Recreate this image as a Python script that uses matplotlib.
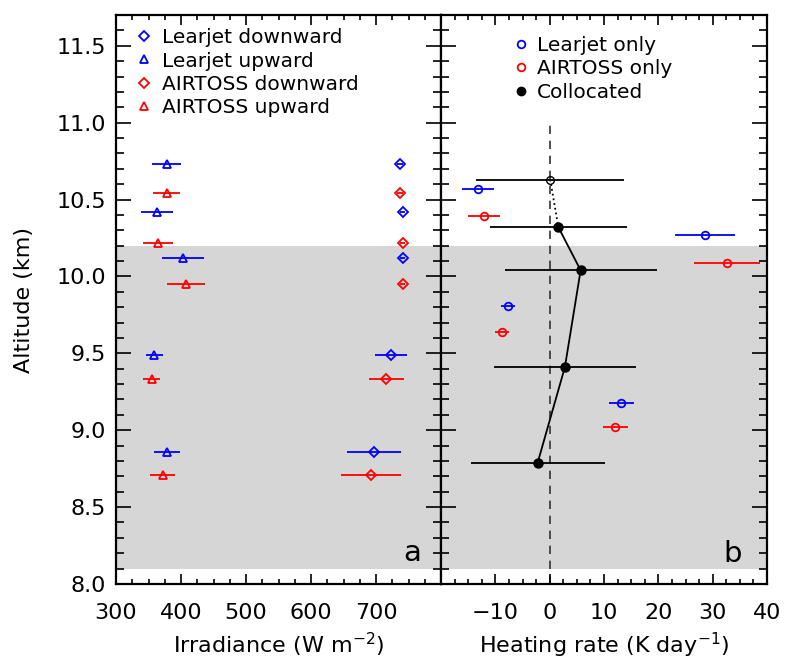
import numpy as np
import matplotlib
matplotlib.use("Agg")
import matplotlib.pyplot as plt
from matplotlib.lines import Line2D

# --- panel a: irradiance profiles ---
lj_alt = [10.73, 10.42, 10.12, 9.49, 8.86]
lj_up = [378, 363, 403, 359, 378]
lj_up_err = [22, 25, 32, 13, 20]
lj_dn = [737, 741, 741, 723, 697]
lj_dn_err = [4, 4, 4, 25, 42]

at_alt = [10.54, 10.22, 9.95, 9.33, 8.71]
at_up = [378, 364, 408, 355, 372]
at_up_err = [21, 23, 29, 13, 19]
at_dn = [737, 741, 741, 716, 692]
at_dn_err = [4, 4, 4, 27, 46]

# --- panel b: heating rates ---
ljo_alt = [10.57, 10.27, 9.81, 9.18]
ljo_hr = [-13.2, 28.6, -7.7, 13.2]
ljo_err = [3.0, 5.6, 1.3, 2.3]
ato_alt = [10.39, 10.09, 9.64, 9.02]
ato_hr = [-12.1, 32.7, -8.8, 12.1]
ato_err = [3.0, 6.1, 1.3, 2.3]
col_alt = [10.63, 10.32, 10.04, 9.41, 8.79]
col_hr = [0.1, 1.6, 5.7, 2.8, -2.2]
col_err = [13.6, 12.6, 14.0, 13.1, 12.3]

cloud_base, cloud_top = 8.1, 10.2

plt.rcParams['font.family'] = ['DejaVu Sans']
BLUE, RED = '#0000ff', '#ff0000'
FS = 16

fig = plt.figure(figsize=(7.85, 6.6), dpi=100)
axa = fig.add_axes([116/785, 1-584/660, 325/785, 569/660])
axb = fig.add_axes([441/785, 1-584/660, 326/785, 569/660])

for ax in (axa, axb):
    ax.axhspan(cloud_base, cloud_top, color='#d6d6d6', lw=0, zorder=0)
    ax.set_ylim(8.0, 11.7)
    ax.set_yticks(np.arange(8.0, 11.51, 0.5))
    ax.set_yticks(np.arange(8.0, 11.7, 0.1), minor=True)
    ax.tick_params(which='both', direction='in', top=True, right=True, width=1.2,
                   labelsize=FS, colors='black')
    ax.tick_params(axis='y', which='major', length=11, pad=7)
    ax.tick_params(axis='y', which='minor', length=5.5)
    ax.tick_params(axis='x', which='major', length=7.5, pad=14)
    ax.tick_params(axis='x', which='minor', length=3.5)
    for s in ax.spines.values():
        s.set_linewidth(1.6)

ekw = dict(ls='none', mew=1.3, mfc='none', ms=5.5, elinewidth=1.3, capsize=0)
dkw = dict(ekw, ms=5)

# panel a
axa.errorbar(lj_dn, lj_alt, xerr=lj_dn_err, marker='D', color=BLUE, **dkw)
axa.errorbar(lj_up, lj_alt, xerr=lj_up_err, marker='^', color=BLUE, **ekw)
axa.errorbar(at_dn, at_alt, xerr=at_dn_err, marker='D', color=RED, **dkw)
axa.errorbar(at_up, at_alt, xerr=at_up_err, marker='^', color=RED, **ekw)
axa.set_xlim(300, 800)
axa.set_xticks(np.arange(300, 801, 100))
axa.set_xticklabels(['300', '400', '500', '600', '700', ''])
axa.set_xticks(np.arange(300, 800, 25), minor=True)
axa.set_xlabel('Irradiance (W m$^{-2}$)', fontsize=FS, labelpad=5)
axa.set_ylabel('Altitude (km)', fontsize=FS, labelpad=16)
axa.text(0.91, 0.055, 'a', transform=axa.transAxes, fontsize=21, ha='center', va='center')

hand_a = [Line2D([], [], ls='none', marker='D', ms=5, mew=1.3, mfc='none', color=BLUE),
          Line2D([], [], ls='none', marker='^', ms=5.5, mew=1.3, mfc='none', color=BLUE),
          Line2D([], [], ls='none', marker='D', ms=5, mew=1.3, mfc='none', color=RED),
          Line2D([], [], ls='none', marker='^', ms=5.5, mew=1.3, mfc='none', color=RED)]
axa.legend(hand_a, ['Learjet downward', 'Learjet upward', 'AIRTOSS downward', 'AIRTOSS upward'],
           loc='upper left', bbox_to_anchor=(0.06, 0.977), frameon=False, fontsize=14.5,
           handlelength=0.8, handletextpad=0.5, labelspacing=0.22, borderpad=0, borderaxespad=0)

# panel b
axb.plot([0, 0], [8.0, 11.0], ls=(0, (5, 4)), color='#333333', lw=1.2, zorder=1)
axb.errorbar(ljo_hr, ljo_alt, xerr=ljo_err, marker='o', color=BLUE, **ekw)
axb.errorbar(ato_hr, ato_alt, xerr=ato_err, marker='o', color=RED, **ekw)
axb.errorbar(col_hr, col_alt, xerr=col_err, ls='none', color='black', elinewidth=1.3, capsize=0)
axb.plot(col_hr[:2], col_alt[:2], ls=':', color='black', lw=1.3)
axb.plot(col_hr[1:], col_alt[1:], ls='-', color='black', lw=1.3)
axb.plot(col_hr[:1], col_alt[:1], 'o', mfc='none', mec='black', ms=5.5, mew=1.0)
axb.plot(col_hr[1:], col_alt[1:], 'o', color='black', ms=6.5)
axb.set_xlim(-20, 40)
axb.set_xticks(np.arange(-20, 41, 10))
axb.set_xticklabels(['', '\u221210', '0', '10', '20', '30', '40'])
axb.set_xticks(np.arange(-20, 40.1, 2.5), minor=True)
axb.set_yticklabels([])
axb.set_xlabel('Heating rate (K day$^{-1}$)', fontsize=FS, labelpad=5)
axb.text(0.896, 0.052, 'b', transform=axb.transAxes, fontsize=21, ha='center', va='center')

hand_b = [Line2D([], [], ls='none', marker='o', ms=5.5, mew=1.3, mfc='none', color=BLUE),
          Line2D([], [], ls='none', marker='o', ms=5.5, mew=1.3, mfc='none', color=RED),
          Line2D([], [], ls='none', marker='o', ms=6, color='black')]
axb.legend(hand_b, ['Learjet only', 'AIRTOSS only', 'Collocated'],
           loc='upper left', bbox_to_anchor=(0.22, 0.963), frameon=False, fontsize=14.5,
           handlelength=0.8, handletextpad=0.4, labelspacing=0.22, borderpad=0, borderaxespad=0)

fig.savefig('out.png', dpi=100)
